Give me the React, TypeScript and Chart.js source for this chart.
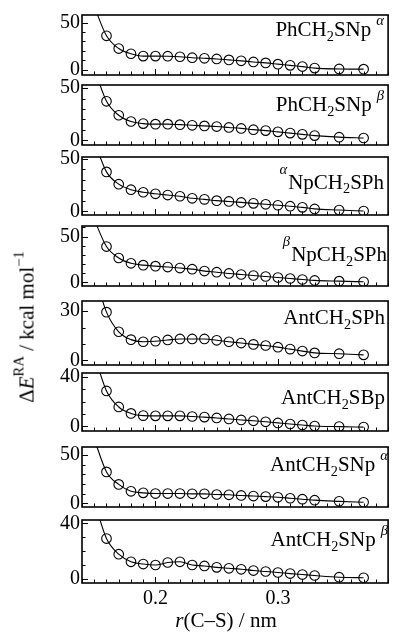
import React, { useEffect, useRef } from "react";
import { Chart, registerables } from "chart.js";
Chart.register(...registerables);

// ---------- data ----------
const rValues = [0.16, 0.17, 0.18, 0.19, 0.2, 0.21, 0.22, 0.23, 0.24, 0.25, 0.26, 0.27, 0.28, 0.29, 0.3, 0.31, 0.32, 0.33, 0.35, 0.37];
const curveStartR = 0.15;

const ePhCH2SNpA = [36, 22.5, 17, 14.5, 14.5, 14.4, 13.8, 12.8, 12.2, 11.5, 10.5, 9.5, 8.3, 7.3, 6, 4.7, 3.4, 1.8, 0.9, 0.7];
const ePhCH2SNpB = [37.4, 24, 18, 16, 15.5, 15.5, 15, 14.4, 13.8, 13.2, 12.3, 11.4, 10.2, 9.3, 8.1, 6.9, 5.7, 4.5, 3, 2.2];
const eANpCH2SPh = [37.6, 25.9, 20.6, 18.2, 16.7, 15.5, 14.4, 12.4, 11.4, 10.2, 9.4, 8.5, 7.6, 6.7, 5.8, 4.9, 3.8, 2.3, 1.2, 0.3];
const eBNpCH2SPh = [39, 26.5, 20.7, 18.7, 17.6, 16.6, 15.5, 14.3, 12.2, 11, 9.6, 8.5, 7.4, 6.3, 5.2, 4.1, 3, 2, 1.2, 0.5];
const eAntCH2SPh = [29.4, 17.4, 12.6, 11.3, 11.6, 12.4, 13, 13, 13, 12.2, 11.3, 10.5, 9.7, 9, 8, 6.8, 5.6, 4.5, 4, 3.3];
const eAntCH2SBp = [28.7, 15.7, 10.5, 8.7, 8.5, 8.5, 8.5, 8, 7.5, 6.8, 6, 5.2, 4.5, 3.7, 2.8, 1.9, 1.1, 0.3, -0.2, -0.6];
const eAntCH2SNpA = [32.6, 19.6, 12.4, 10.8, 10.1, 10.1, 10.1, 9.8, 9.8, 9.1, 8.8, 8.1, 7.5, 6.9, 6.2, 5.2, 4.2, 3.2, 2, 1];
const eAntCH2SNpB = [29, 17.7, 12.2, 10.6, 9.9, 11.7, 12.2, 9.9, 9.2, 8.2, 7.5, 6.8, 5.9, 5.2, 4.5, 3.7, 3, 2.3, 1.1, 0.7];
const seriesList = [ePhCH2SNpA, ePhCH2SNpB, eANpCH2SPh, eBNpCH2SPh, eAntCH2SPh, eAntCH2SBp, eAntCH2SNpA, eAntCH2SNpB];
const curveStart = [67, 69, 67, 68.6, 53.6, 58, 66.7, 56];

const yMin = [-5.5, -4.5, -3.5, -4.1, -2.9, -3.75, -3.9, -3.1];
const yMax = [58, 53, 51.8, 61.5, 36.2, 43.2, 58.5, 42.4];
const yMajor = [50, 50, 50, 50, 30, 40, 50, 40];
const yMinor = [10, 10, 10, 10, 10, 10, 10, 10];
const xMin = 0.14;
const xMax = 0.39;
const xTickLabels = [0.2, 0.3];

const labelPreSup = ["", "", "α", "β", "", "", "", ""];
const labelHead = ["PhCH", "PhCH", "NpCH", "NpCH", "AntCH", "AntCH", "AntCH", "AntCH"];
const labelTail = ["SNp", "SNp", "SPh", "SPh", "SPh", "SBp", "SNp", "SNp"];
const labelPostSup = ["α", "β", "", "", "", "", "α", "β"];

// ---------- layout ----------
const W = 394;
const H = 634;
const plotLeft = 82;
const plotRight = 392;
const panelTop = [13, 83, 155, 224, 299, 371, 445, 518];
const panelBottom = [77, 147, 217, 288, 367, 433, 509, 583];
const PAD = 12;
const labelBaseline = [36.7, 111.7, 189.3, 261.7, 325, 405, 471.7, 546.7];
const labelRight = [384, 384, 384, 387, 385, 385, 388, 388];
const FONT = "'Liberation Serif', 'Times New Roman', serif";

const frameTicks = {
  id: "frameTicks",
  afterDatasetsDraw(chart: any, _args: any, opts: any) {
    const { ctx, chartArea: a, scales } = chart;
    const x = scales.x;
    const y = scales.y;
    ctx.save();
    ctx.strokeStyle = "#000";
    ctx.lineWidth = 1;
    const kStart = Math.ceil(y.min / opts.minor - 1e-9);
    const kEnd = Math.floor(y.max / opts.minor + 1e-9);
    for (let k = kStart; k <= kEnd; k++) {
      const v = k * opts.minor;
      const py = Math.round(y.getPixelForValue(v)) + 0.5;
      const major = Math.abs(v % opts.major) < 1e-6;
      const len = major ? 6 : 3.5;
      ctx.beginPath();
      ctx.moveTo(a.left, py);
      ctx.lineTo(a.left + len, py);
      ctx.stroke();
    }
    const jStart = Math.ceil(x.min * 100 - 1e-9);
    const jEnd = Math.floor(x.max * 100 + 1e-9);
    for (let j = jStart; j <= jEnd; j++) {
      const px = Math.round(x.getPixelForValue(j / 100)) + 0.5;
      const len = j % 10 === 0 ? 6 : 3.5;
      ctx.beginPath();
      ctx.moveTo(px, a.bottom);
      ctx.lineTo(px, a.bottom - len);
      ctx.stroke();
    }
    ctx.lineWidth = 1.6;
    ctx.strokeRect(a.left, a.top, a.right - a.left, a.bottom - a.top);
    ctx.restore();
  },
};

function Panel({ i }: { i: number }) {
  const ref = useRef<HTMLCanvasElement>(null);
  const last = i === 7;
  const h = panelBottom[i] - panelTop[i] + PAD + (last ? 40 : PAD);
  useEffect(() => {
    const canvas = ref.current!;
    const series = seriesList[i];
    const pts = rValues.map((r, k) => ({ x: r, y: series[k] }));
    const chart = new Chart(canvas, {
      type: "scatter",
      data: {
        datasets: [
          {
            data: [{ x: curveStartR, y: curveStart[i] }, ...pts],
            showLine: true,
            borderColor: "#000",
            borderWidth: 1.1,
            pointRadius: 0,
            cubicInterpolationMode: "monotone",
            clip: 0,
            fill: false,
          } as any,
          {
            data: pts,
            showLine: false,
            pointRadius: 4.8,
            pointBorderWidth: 1.1,
            pointBorderColor: "#000",
            pointBackgroundColor: "rgba(0,0,0,0)",
            clip: 0,
          } as any,
        ],
      },
      options: {
        responsive: false,
        animation: false,
        devicePixelRatio: 1,
        events: [],
        layout: { padding: { top: PAD, left: 0, right: W - plotRight, bottom: 0 } },
        plugins: {
          legend: { display: false },
          tooltip: { enabled: false },
          frameTicks: { major: yMajor[i], minor: yMinor[i] },
        } as any,
        scales: {
          x: {
            type: "linear",
            min: xMin,
            max: xMax,
            grid: { display: false, drawTicks: false },
            border: { display: false },
            afterBuildTicks: (s: any) => {
              s.ticks = xTickLabels.map((v) => ({ value: v }));
            },
            afterFit: (s: any) => {
              s.height = last ? 40 : PAD;
            },
            ticks: {
              display: last,
              padding: 4,
              autoSkip: false,
              maxRotation: 0,
              color: "#000",
              font: { family: FONT, size: 20 },
              callback: (v: any) => Number(v).toFixed(1),
            },
          },
          y: {
            type: "linear",
            min: yMin[i],
            max: yMax[i],
            grid: { display: false, drawTicks: false },
            border: { display: false },
            afterBuildTicks: (s: any) => {
              s.ticks = [{ value: 0 }, { value: yMajor[i] }];
            },
            afterFit: (s: any) => {
              s.width = plotLeft;
            },
            ticks: {
              padding: 2,
              color: "#000",
              font: { family: FONT, size: 20 },
              callback: (v: any) => String(v),
            },
          },
        },
      } as any,
      plugins: [frameTicks],
    });
    return () => chart.destroy();
  }, [i]);
  return (
    <canvas
      ref={ref}
      width={W}
      height={h}
      style={{ position: "absolute", left: 0, top: panelTop[i] - PAD, width: W, height: h }}
    />
  );
}

const subStyle: React.CSSProperties = { fontSize: "0.68em", position: "relative", top: "0.32em", verticalAlign: "baseline" };
const supStyle: React.CSSProperties = { fontSize: "0.7em", position: "relative", top: "-0.75em", verticalAlign: "baseline", fontStyle: "italic" };
const preSupStyle: React.CSSProperties = { fontSize: "0.7em", position: "relative", top: "-1em", verticalAlign: "baseline", fontStyle: "italic", marginRight: 1 };

function PanelLabel({ i }: { i: number }) {
  const fs = 21;
  return (
    <div
      style={{
        position: "absolute",
        left: 0,
        width: labelRight[i],
        top: labelBaseline[i] - 0.8375 * fs,
        textAlign: "right",
        fontFamily: FONT,
        fontSize: fs,
        lineHeight: 1,
        whiteSpace: "nowrap",
        color: "#000",
      }}
    >
      {labelPreSup[i] ? <span style={preSupStyle}>{labelPreSup[i]}</span> : null}
      {labelHead[i]}
      <span style={subStyle}>2</span>
      {labelTail[i]}
      {labelPostSup[i] ? <span style={{ ...supStyle, marginLeft: 5 }}>{labelPostSup[i]}</span> : null}
    </div>
  );
}

export default function App() {
  return (
    <div style={{ position: "absolute", left: 0, top: 0, width: W, height: H, background: "#fff", overflow: "hidden" }}>
      {seriesList.map((_, i) => (
        <Panel key={"p" + i} i={i} />
      ))}
      {seriesList.map((_, i) => (
        <PanelLabel key={"l" + i} i={i} />
      ))}
      <div
        style={{
          position: "absolute",
          left: 27,
          top: 327,
          transform: "translate(-50%, -50%) rotate(-90deg)",
          whiteSpace: "nowrap",
          fontFamily: FONT,
          fontSize: 21,
          lineHeight: 1,
          color: "#000",
        }}
      >
        Δ<i>E</i>
        <span style={{ fontSize: "0.7em", position: "relative", top: "-0.7em" }}>RA</span> / kcal mol
        <span style={{ fontSize: "0.7em", position: "relative", top: "-0.7em" }}>−1</span>
      </div>
      <div
        style={{
          position: "absolute",
          left: 226 - 150,
          width: 300,
          top: 628 - 0.8375 * 21,
          textAlign: "center",
          fontFamily: FONT,
          fontSize: 21,
          lineHeight: 1,
          whiteSpace: "nowrap",
          color: "#000",
        }}
      >
        <i>r</i>(C–S) / nm
      </div>
    </div>
  );
}
